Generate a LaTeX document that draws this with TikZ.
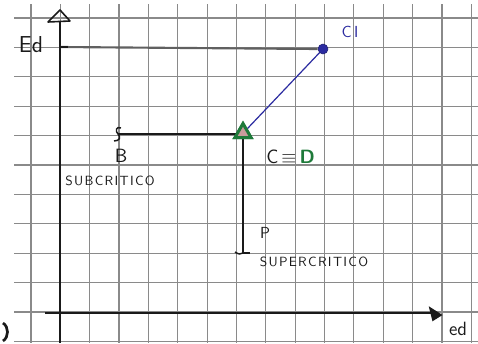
\documentclass[tikz,border=0pt]{standalone}
\usetikzlibrary{shapes.geometric}
\definecolor{gridc}{HTML}{8A8A8A}
\definecolor{penblue}{HTML}{2B2BA0}
\definecolor{pengreen}{HTML}{1E7A3A}
\definecolor{ink}{HTML}{1A1A1A}
\tikzset{
  gridline/.style={draw=gridc, line width=0.9pt},
  axisline/.style={draw=ink, line width=1.2pt},
  inkline/.style={draw=ink, line width=1.1pt},
  blueline/.style={draw=penblue, line width=0.9pt},
  levelline/.style={draw=gray!75!black, line width=1.6pt},
  cipt/.style={circle, fill=penblue, draw=penblue!70!black, minimum size=7.5pt, inner sep=0pt},
  tripoint/.style={regular polygon, regular polygon sides=3, draw=pengreen, line width=2.2pt, fill=gray!70!red!60, minimum size=14pt, inner sep=0pt},
  hand/.style={font=\sffamily, text=ink, inner sep=0pt},
}
\begin{document}
\begin{tikzpicture}[x=0.75pt,y=-0.75pt]
\useasboundingbox (0,0) rectangle (478,343);
\fill[white] (0,0) rectangle (478,343);
% grid
\foreach \k in {0,...,15} \draw[gridline] ({31+29.35*\k},4) -- ({31+29.35*\k},343);
\foreach \k in {0,...,11} \draw[gridline] (14,{18+29.4*\k}) -- (478,{18+29.4*\k});
% axes
\coordinate (ybot) at (60,343);
\coordinate (ytop) at (60,21);
\coordinate (xleft) at (45,313);
\coordinate (xright) at (432,313);
\draw[axisline] (ybot) -- (ytop);
\draw[axisline, line join=round] (48,22) -- (60,10) -- (70,21) -- cycle;
\draw[axisline] (xleft) -- (xright);
\fill[ink, line join=round] (430,308) -- (441,315) -- (433,320) -- cycle;
\draw[ink, line width=1.2pt] (430,308) -- (441,315) -- (433,320) -- cycle;
% level line Ed
\coordinate (Ed0) at (60,47);
\node[cipt] (CI) at (323,49) {};
\draw[levelline] (Ed0) -- (CI.west);
\draw[ink, line width=1.5pt] (Ed0) -- ++(8,0);
% point C = D
\node[tripoint] (C) at (243,133) {};
\coordinate (Bend) at (118,134);
\coordinate (Pend) at (243,253);
\draw[blueline] (CI) -- (C.north east);
\draw[inkline] (Bend) -- (Bend -| C.west);
\draw[inkline] (Pend |- C.south) -- (Pend);
\node[tripoint] at (243,133) {};
% end hooks
\draw[inkline] (121,128) .. controls (116,126) and (115,131) .. (118,134) .. controls (121,137) and (120,141) .. (114,141);
\draw[inkline] (Pend) .. controls (241,255) and (238,254) .. (235,252);
\draw[inkline] (Pend) -- (250,253);
% stray pen mark bottom-left
\draw[ink, line width=2pt] (3,323) .. controls (9,327) and (9,337) .. (3,341);
% labels
\node[hand, font=\sffamily\LARGE] (EdL) at (31,45) {Ed};
\node[hand, font=\sffamily\Large] (edL) at (458,329) {ed};
\node[hand, text=penblue, font=\sffamily\large] (CIL) at (350,32) {C\,I};
\node[hand, font=\sffamily\Large] (BL) at (121,156) {B};
\node[hand, font=\sffamily\normalsize] (SubL) at (110,181) {S\kern1ptU\kern1ptB\kern1ptC\kern1ptR\kern1ptI\kern1ptT\kern1ptI\kern1ptC\kern1ptO};
\node[hand, font=\sffamily\large] (PL) at (265,233) {P};
\node[hand, font=\sffamily\normalsize] (SupL) at (314,262) {S\kern1ptU\kern1ptP\kern1ptE\kern1ptR\kern1ptC\kern1ptR\kern1ptI\kern1ptT\kern1ptI\kern1ptC\kern1ptO};
\node[hand, font=\sffamily\Large, anchor=west] (CDL) at (266,157) {C\,$\equiv$\,\textcolor{pengreen}{\textbf{D}}};
\end{tikzpicture}
\end{document}
